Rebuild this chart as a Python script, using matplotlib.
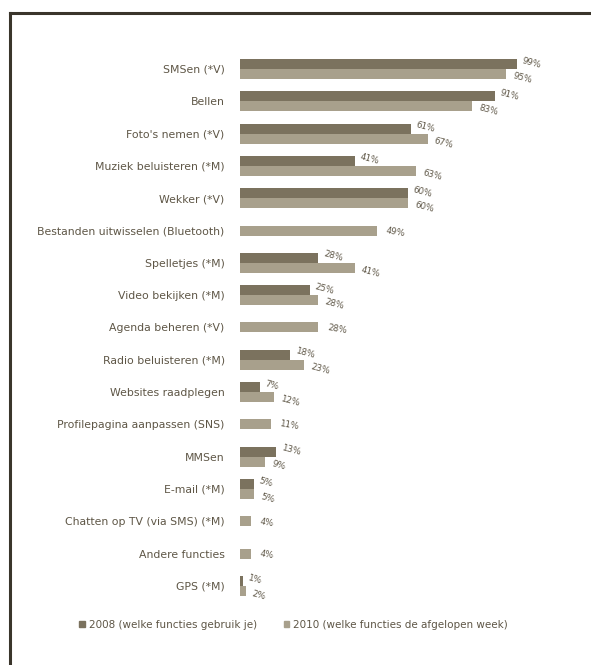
import matplotlib
matplotlib.use("Agg")
import matplotlib.pyplot as plt
import numpy as np
from matplotlib.patches import Patch
from matplotlib.lines import Line2D

categories = ["SMSen (*V)", "Bellen", "Foto's nemen (*V)", "Muziek beluisteren (*M)",
              "Wekker (*V)", "Bestanden uitwisselen (Bluetooth)", "Spelletjes (*M)",
              "Video bekijken (*M)", "Agenda beheren (*V)", "Radio beluisteren (*M)",
              "Websites raadplegen", "Profilepagina aanpassen (SNS)", "MMSen",
              "E-mail (*M)", "Chatten op TV (via SMS) (*M)", "Andere functies", "GPS (*M)"]
v2008 = [99, 91, 61, 41, 60, None, 28, 25, None, 18, 7, None, 13, 5, None, None, 1]
v2010 = [95, 83, 67, 63, 60, 49, 41, 28, 28, 23, 12, 11, 9, 5, 4, 4, 2]
legend_labels = ["2008 (welke functies gebruik je)", "2010 (welke functies de afgelopen week)"]

C_DARK = "#7b725e"
C_LIGHT = "#a8a08c"
C_TEXT = "#5e5646"
C_FRAME = "#3a352b"

W, H = 591, 665
fig = plt.figure(figsize=(W / 100, H / 100), dpi=100)
fig.patch.set_facecolor("white")

# frame lines (top and left)
fig.add_artist(Line2D([10 / W, 1], [1 - 13 / H, 1 - 13 / H], color=C_FRAME, lw=2.2))
fig.add_artist(Line2D([10 / W, 10 / W], [0, 1 - 13 / H], color=C_FRAME, lw=2.2))

ax = fig.add_axes([240 / W, 0, (W - 240) / W, 1])
step = 32.3
top = 69
ax.set_ylim((H - top) / step, -top / step)
ax.set_xlim(0, (W - 240) / 2.8)

bh = 10 / step
y = np.arange(len(categories))
for i in y:
    a, b = v2008[i], v2010[i]
    if a is not None:
        ax.barh(i - bh / 2, a, height=bh, color=C_DARK, edgecolor="none")
        ax.barh(i + bh / 2, b, height=bh, color=C_LIGHT, edgecolor="none")
        ax.annotate(f"{a}%", (a, i - bh / 2), xytext=(3, 1), textcoords="offset points",
                    fontsize=6.3, color=C_TEXT, va="center", ha="left", rotation=-15)
        ax.annotate(f"{b}%", (b, i + bh / 2), xytext=(4, -3), textcoords="offset points",
                    fontsize=6.3, color=C_TEXT, va="center", ha="left", rotation=-15)
    else:
        ax.barh(i, b, height=bh, color=C_LIGHT, edgecolor="none")
        ax.annotate(f"{b}%", (b, i), xytext=(6, -1), textcoords="offset points",
                    fontsize=6.3, color=C_TEXT, va="center", ha="left", rotation=-10)

ax.set_yticks(y)
ax.set_yticklabels(categories, fontsize=7.8, color=C_TEXT)
ax.tick_params(axis="y", length=0, pad=11)
ax.set_xticks([])
for s in ax.spines.values():
    s.set_visible(False)
ax.patch.set_alpha(0)

handles = [Patch(color=C_DARK), Patch(color=C_LIGHT)]
fig.legend(handles, legend_labels, loc="center left",
           bbox_to_anchor=(70 / W, 1 - 625 / H), ncol=2, frameon=False,
           handlelength=0.5, handleheight=0.5, handletextpad=0.4,
           columnspacing=2.6, fontsize=7.5, labelcolor=C_TEXT)

fig.savefig("out.png", dpi=100, facecolor="white")
